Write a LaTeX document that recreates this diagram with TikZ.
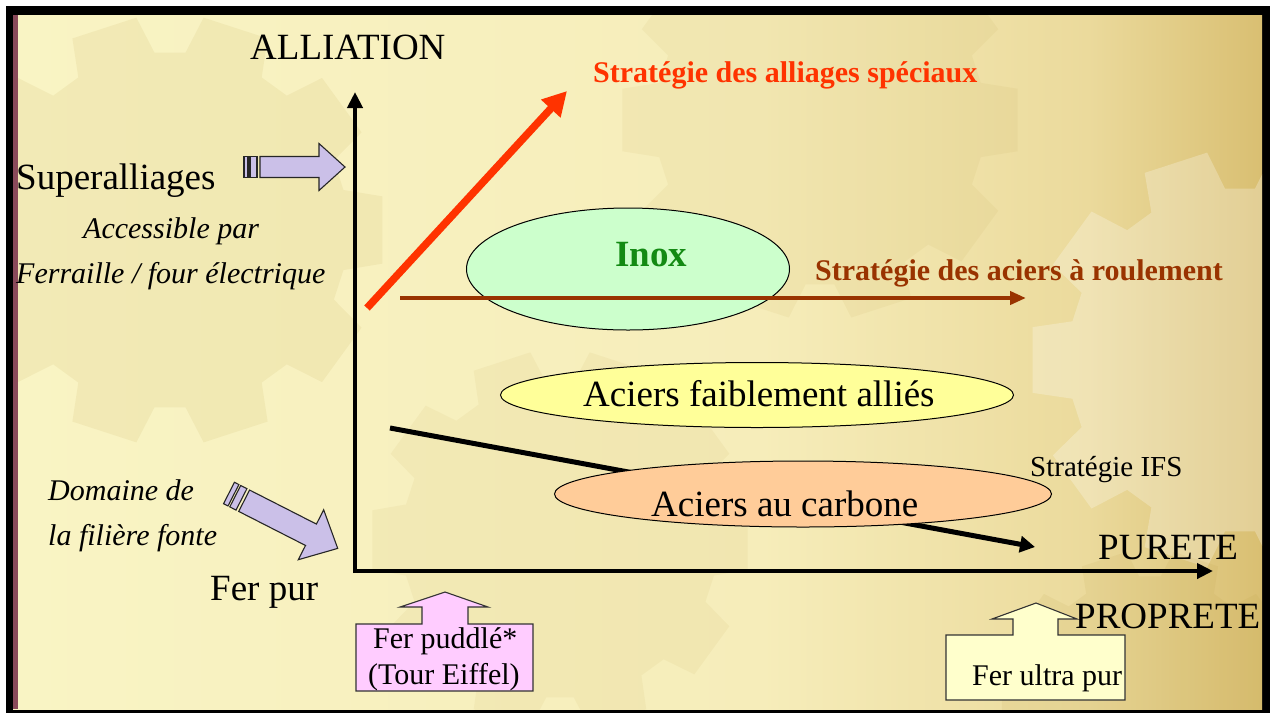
\documentclass[tikz,border=0pt]{standalone}
\usepackage{fontspec}
\setmainfont{Liberation Serif}
\usetikzlibrary{shapes.geometric,arrows.meta,calc}
\definecolor{bgL}{HTML}{F9F4C4}
\definecolor{bgM}{HTML}{F6EDBA}
\definecolor{bgR1}{HTML}{EBDA9C}
\definecolor{bgR}{HTML}{D9BF72}
\definecolor{gearc}{HTML}{B89A40}
\definecolor{stripc}{HTML}{8A4A5A}
\definecolor{redc}{HTML}{FF3300}
\definecolor{brownc}{HTML}{993300}
\definecolor{inoxc}{HTML}{CCFFCC}
\definecolor{faibc}{HTML}{FFFF99}
\definecolor{carbc}{HTML}{FFCC99}
\definecolor{lavc}{HTML}{CBC0E8}
\definecolor{pinkc}{HTML}{FFCCFF}
\definecolor{creamc}{HTML}{FFFFCC}
\definecolor{greenc}{HTML}{138A13}
\pgfdeclarehorizontalshading{bgshade}{100bp}{color(0bp)=(bgL); color(25bp)=(bgL); color(55bp)=(bgM); color(68bp)=(bgR1); color(75bp)=(bgR); color(100bp)=(bgR)}
\newcommand\gearpath[4]{($(#1,#2)+(-9:#3)$) \foreach \a in {0,36,...,324}{ -- ($(#1,#2)+(\a-9:#3)$) -- ($(#1,#2)+(\a+9:#3)$) -- ($(#1,#2)+(\a+13:#4)$) -- ($(#1,#2)+(\a+23:#4)$) } -- cycle}
\begin{document}
\begin{tikzpicture}[x=1pt,y=-1pt,
  big/.style={font=\fontsize{37}{40}\selectfont, inner sep=0pt, anchor=base west},
  mid/.style={font=\fontsize{30}{34}\selectfont, inner sep=0pt, anchor=base west},
  midit/.style={font=\fontsize{30}{34}\selectfont\itshape, inner sep=0pt, anchor=base west},
  strat/.style={font=\fontsize{30}{34}\selectfont\bfseries, inner sep=0pt, anchor=base west},
  ell/.style={ellipse, draw=black, line width=1pt, inner sep=0pt},
  axis/.style={line width=4.5pt, -{Triangle[length=16pt,width=15pt]}},
  purp/.style={fill=lavc, draw=black!85, line width=1.1pt, line join=miter},
  callout/.style={draw=black!80, line width=1.1pt}]
\useasboundingbox (0,0) rectangle (1274,713);
\fill[white] (0,0) rectangle (1274,713);
\fill[black] (6,6) rectangle (1270,713);
\shade[shading=bgshade] (13,15) rectangle (1262,709);
\begin{scope}
  \clip (13,15) rectangle (1262,709);
  \fill[gearc, opacity=0.10] \gearpath{170}{230}{215}{178};
  \fill[gearc, opacity=0.08] \gearpath{820}{120}{200}{165};
  \fill[gearc, opacity=0.08] \gearpath{560}{540}{190}{158};
  \fill[white, opacity=0.25] \gearpath{1240}{360}{210}{172};
  \fill[gearc, opacity=0.10] \gearpath{1150}{700}{150}{124};
\end{scope}
\fill[stripc] (13,15) rectangle (18,709);

% axes
\coordinate (O) at (355,571);
\coordinate (ytip) at (355,92);
\coordinate (xtip) at (1213,571);
\draw[axis] (355,573) -- (ytip);
\draw[axis] (353,571) -- (xtip);

% ellipses and strategy arrows
\node[ell, fill=inoxc, minimum width=323pt, minimum height=122pt] (inox) at (628,269) {};
\coordinate (r1) at (367,308);
\coordinate (r2) at (567,91);
\draw[redc, line width=7.5pt, -{Triangle[length=24pt,width=25pt]}] (r1) -- (r2);
\coordinate (b1) at (400,298);
\coordinate (b2) at (1026,298);
\draw[brownc, line width=4pt, -{Triangle[length=16pt,width=13pt]}] (b1) -- (b2);
\node[ell, fill=faibc, minimum width=513pt, minimum height=65pt] (faib) at (757,395) {};
\coordinate (k1) at (390,428);
\coordinate (k2) at (1035,547);
\draw[black, line width=5pt, -{Triangle[length=15pt,width=16pt]}] (k1) -- (k2);
\node[ell, fill=carbc, minimum width=497pt, minimum height=66pt] (carb) at (803,494) {};

% texts
\node[big] (alliation) at (250,59) {ALLIATION};
\node[strat, text=redc] (sas) at (593,82) {Stratégie des alliages spéciaux};
\node[big] (superall) at (16,189) {Superalliages};
\node[midit] (acc) at (83,238) {Accessible par};
\node[midit] (ferr) at (16,283) {Ferraille / four électrique};
\node[font=\fontsize{37}{40}\selectfont\bfseries, inner sep=0pt, anchor=base west, text=greenc] (inoxt) at (615,266) {Inox};
\node[strat, text=brownc] (sar) at (815,280) {Stratégie des aciers à roulement};
\node[big] (faibt) at (583,406) {Aciers faiblement alliés};
\node[font=\fontsize{29}{33}\selectfont, inner sep=0pt, anchor=base west] (ifs) at (1030,476) {Stratégie IFS};
\node[midit] (dom1) at (48,500) {Domaine de};
\node[midit] (dom2) at (48,545) {la filière fonte};
\node[big] (carbt) at (651,516) {Aciers au carbone};
\node[big] (purete) at (1098,559) {PURETE};
\node[big] (ferpur) at (210,600) {Fer pur};

% purple arrows
\begin{scope}[shift={(244,167)}]
  \draw[purp] (0,-10.5) rectangle (4,10.5);
  \draw[purp] (6,-10.5) rectangle (13,10.5);
  \draw[purp] (16,-10.5) -- (75,-10.5) -- (75,-23.5) -- (101,0) -- (75,23.5) -- (75,10.5) -- (16,10.5) -- cycle;
\end{scope}
\begin{scope}[shift={(229,493)}, rotate=-27]
  \draw[purp] (0,-12) rectangle (5,12);
  \draw[purp] (7,-12) rectangle (14,12);
  \draw[purp] (17,-12) -- (92,-12) -- (92,-28) -- (122,0) -- (92,28) -- (92,12) -- (17,12) -- cycle;
\end{scope}

% callouts
\draw[callout, fill=pinkc] (356,624) -- (422,624) -- (422,607) -- (400,607) -- (445,592) -- (488,607) -- (468,607) -- (468,624) -- (533,624) -- (533,691) -- (356,691) -- cycle;
\node[mid] (pud1) at (373,648) {Fer puddlé*};
\node[mid] (pud2) at (368,684) {(Tour Eiffel)};
\draw[callout, fill=creamc] (946,635) -- (1013,635) -- (1013,619) -- (992,619) -- (1036,603) -- (1077,619) -- (1058,619) -- (1058,635) -- (1125,635) -- (1125,700) -- (946,700) -- cycle;
\node[mid] (ultra) at (972,685) {Fer ultra pur};
\node[big] (proprete) at (1075,628) {PROPRETE};
\end{tikzpicture}
\end{document}
